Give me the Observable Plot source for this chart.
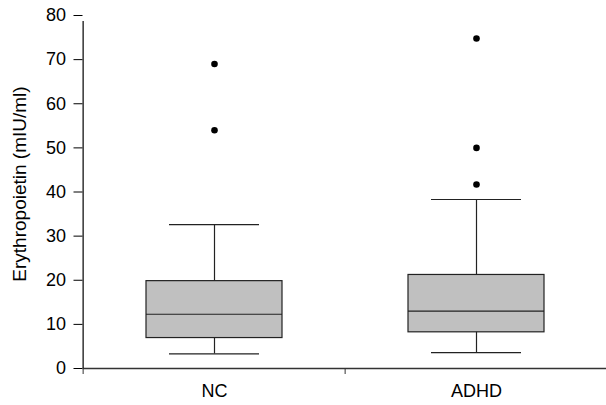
<!DOCTYPE html>
<html>
<head>
<meta charset="utf-8">
<script src="https://cdn.jsdelivr.net/npm/d3@7"></script>
<script src="https://cdn.jsdelivr.net/npm/@observablehq/plot@0.6"></script>
<style>
  html, body { margin: 0; padding: 0; background: #fff; }
  svg { font-family: "Liberation Sans", Arial, Helvetica, sans-serif; }
</style>
</head>
<body>
<div id="chart"></div>
<script>
const categories = ["NC", "ADHD"];
const whiskerLow = [3.3, 3.6];
const q1 = [6.9, 8.2];
const median = [12.3, 13.0];
const q3 = [19.8, 21.2];
const whiskerHigh = [32.6, 38.3];
const outlierGroup = ["NC", "NC", "ADHD", "ADHD", "ADHD"];
const outlierValue = [69.0, 54.0, 74.8, 50.0, 41.7];
const yTicks = [0, 10, 20, 30, 40, 50, 60, 70, 80];

const boxes = categories.map((c, i) => ({
  group: c, lo: whiskerLow[i], q1: q1[i], med: median[i], q3: q3[i], hi: whiskerHigh[i]
}));
const outliers = outlierGroup.map((g, i) => ({group: g, value: outlierValue[i]}));

const W = 606, H = 405;
const xRange = [82.5, 608];
const bw = (xRange[1] - xRange[0]) / categories.length;
const boxInset = 63;
const capInset = 86;

const chart = Plot.plot({
  width: W,
  height: H,
  marginLeft: 82.5,
  marginRight: 0,
  marginTop: 15,
  marginBottom: 37,
  style: {fontFamily: "Liberation Sans, Arial, sans-serif", background: "#fff", color: "#000"},
  x: {domain: categories, range: xRange, padding: 0, label: null},
  y: {domain: [0, 80], label: null},
  marks: [
    Plot.axisY({ticks: yTicks, tickSize: 9, tickPadding: 8, fontSize: 18, label: null, stroke: "#000"}),
    Plot.axisX({tickSize: 0, tickPadding: 16, fontSize: 18, label: null}),
    Plot.ruleY([0], {stroke: "#333", strokeWidth: 1.6}),
    Plot.ruleX([categories[0]], {x: d => d, y1: 0, y2: 80, insetBottom: -6, dx: -bw / 2, stroke: "#000", strokeWidth: 1.2}),
    Plot.ruleX(categories, {x: d => d, y1: 0, y2: 0, insetBottom: -6, dx: -bw / 2, stroke: "#333", strokeWidth: 1}),
    Plot.ruleX(boxes, {x: "group", y1: "lo", y2: "hi", stroke: "#222", strokeWidth: 1.2}),
    Plot.tickY(boxes, {x: "group", y: "lo", inset: capInset, stroke: "#222", strokeWidth: 1.2}),
    Plot.tickY(boxes, {x: "group", y: "hi", inset: capInset, stroke: "#222", strokeWidth: 1.2}),
    Plot.barY(boxes, {x: "group", y1: "q1", y2: "q3", insetLeft: boxInset, insetRight: boxInset, fill: "#c0c0c0", stroke: "#222", strokeWidth: 1.2}),
    Plot.tickY(boxes, {x: "group", y: "med", inset: boxInset, stroke: "#222", strokeWidth: 1.2}),
    Plot.dot(outliers, {x: "group", y: "value", r: 3.3, fill: "#000", stroke: null}),
    Plot.text(["Erythropoietin (mIU/ml)"], {frameAnchor: "left", rotate: -90, dx: -63, dy: -8, fontSize: 19, textAnchor: "middle", fill: "#000"})
  ]
});
document.getElementById("chart").appendChild(chart);
</script>
</body>
</html>
